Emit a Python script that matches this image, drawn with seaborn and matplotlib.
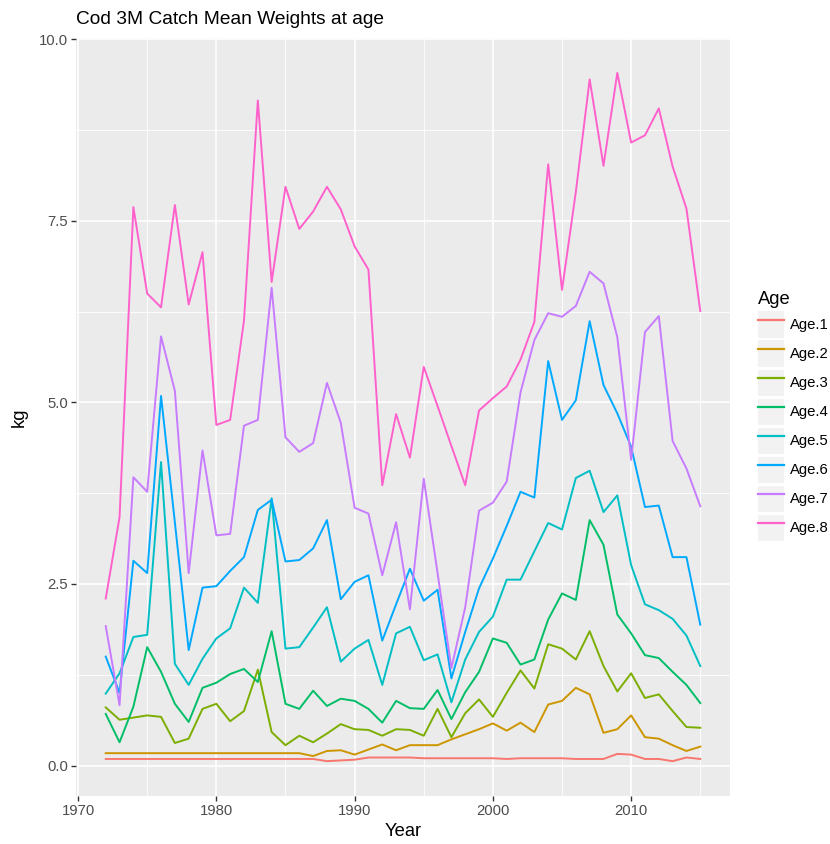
import numpy as np
import pandas as pd
import matplotlib
matplotlib.use("Agg")
import matplotlib.pyplot as plt
import seaborn as sns
from matplotlib.legend_handler import HandlerLine2D
from matplotlib.patches import Rectangle
from matplotlib.ticker import MultipleLocator

# Cod 3M catch mean weights at age (kg)
years = list(range(1972, 2016))

age1 = [0.09] * 16 + [0.06, 0.07, 0.08, 0.11, 0.11, 0.11, 0.11, 0.10, 0.10, 0.10,
                      0.10, 0.10, 0.10, 0.09, 0.10, 0.10, 0.10, 0.10, 0.09, 0.09,
                      0.09, 0.16, 0.15, 0.09, 0.09, 0.06, 0.11, 0.09]
age2 = [0.17] * 15 + [0.13, 0.20, 0.21, 0.15, 0.22, 0.29, 0.21, 0.28, 0.28, 0.28,
                      0.36, 0.43, 0.50, 0.58, 0.48, 0.59, 0.46, 0.84, 0.89, 1.07,
                      0.98, 0.45, 0.50, 0.69, 0.39, 0.37, 0.28, 0.20, 0.26]
age3 = [0.80, 0.63, 0.66, 0.69, 0.67, 0.31, 0.37, 0.78, 0.85, 0.61,
        0.75, 1.32, 0.46, 0.28, 0.41, 0.32, 0.44, 0.57, 0.50, 0.49,
        0.41, 0.50, 0.49, 0.41, 0.78, 0.39, 0.72, 0.91, 0.67, 1.00,
        1.31, 1.06, 1.67, 1.61, 1.46, 1.85, 1.37, 1.02, 1.27, 0.93,
        0.98, 0.75, 0.53, 0.52]
age4 = [0.71, 0.32, 0.81, 1.63, 1.29, 0.85, 0.60, 1.07, 1.14, 1.26,
        1.33, 1.15, 1.85, 0.85, 0.78, 1.03, 0.82, 0.92, 0.89, 0.78,
        0.59, 0.89, 0.79, 0.78, 1.04, 0.64, 1.01, 1.29, 1.75, 1.69,
        1.39, 1.46, 2.01, 2.37, 2.28, 3.38, 3.04, 2.08, 1.82, 1.52,
        1.48, 1.29, 1.11, 0.86]
age5 = [0.99, 1.27, 1.77, 1.80, 4.18, 1.40, 1.11, 1.47, 1.75, 1.89,
        2.45, 2.24, 3.68, 1.61, 1.63, 1.90, 2.18, 1.43, 1.61, 1.73,
        1.11, 1.82, 1.91, 1.45, 1.53, 0.87, 1.46, 1.84, 2.05, 2.56,
        2.56, 2.95, 3.34, 3.25, 3.96, 4.06, 3.49, 3.72, 2.76, 2.22,
        2.14, 2.02, 1.79, 1.37]
age6 = [1.50, 1.00, 2.82, 2.65, 5.09, 3.35, 1.59, 2.45, 2.47, 2.68,
        2.87, 3.52, 3.66, 2.81, 2.83, 2.99, 3.38, 2.29, 2.53, 2.62,
        1.72, 2.22, 2.71, 2.27, 2.42, 1.20, 1.84, 2.44, 2.85, 3.30,
        3.77, 3.69, 5.57, 4.76, 5.03, 6.12, 5.24, 4.85, 4.39, 3.56,
        3.58, 2.87, 2.87, 1.94]
age7 = [1.92, 0.83, 3.97, 3.77, 5.91, 5.16, 2.65, 4.34, 3.17, 3.19,
        4.68, 4.76, 6.58, 4.52, 4.32, 4.44, 5.27, 4.72, 3.55, 3.47,
        2.62, 3.35, 2.15, 3.95, 2.65, 1.34, 2.18, 3.51, 3.62, 3.91,
        5.14, 5.86, 6.23, 6.18, 6.33, 6.80, 6.64, 5.90, 4.21, 5.97,
        6.19, 4.47, 4.09, 3.57]
age8 = [2.30, 3.42, 7.69, 6.50, 6.31, 7.72, 6.35, 7.07, 4.69, 4.76,
        6.13, 9.16, 6.66, 7.97, 7.39, 7.63, 7.97, 7.66, 7.15, 6.83,
        3.86, 4.84, 4.24, 5.49, 4.95, 4.40, 3.86, 4.89, 5.06, 5.22,
        5.59, 6.11, 8.28, 6.55, 7.90, 9.45, 8.26, 9.54, 8.58, 8.68,
        9.05, 8.25, 7.67, 6.26]

ages = ["Age.1", "Age.2", "Age.3", "Age.4", "Age.5", "Age.6", "Age.7", "Age.8"]
series = [age1, age2, age3, age4, age5, age6, age7, age8]
colors = ["#F8766D", "#CD9600", "#7CAE00", "#00BE67",
          "#00BFC4", "#00A9FF", "#C77CFF", "#FF61CC"]

df = pd.concat([pd.DataFrame({"Year": years, "kg": s, "Age": a})
                for a, s in zip(ages, series)], ignore_index=True)

plt.rcParams["font.family"] = ["Liberation Sans", "DejaVu Sans"]

fig = plt.figure(figsize=(8.3, 8.44), dpi=100)
ax = fig.add_axes([76 / 830, 1 - 796 / 844, (730 - 76) / 830, (796 - 38) / 844])

sns.lineplot(data=df, x="Year", y="kg", hue="Age", hue_order=ages,
             palette=colors, linewidth=1.4, ax=ax, legend=False)

ax.set_facecolor("#EBEBEB")
for s in ax.spines.values():
    s.set_visible(False)
ax.set_xlim(1969.85, 2017.15)
ax.set_ylim(-0.42, 10.02)
ax.xaxis.set_major_locator(MultipleLocator(10))
ax.xaxis.set_minor_locator(MultipleLocator(5))
ax.yaxis.set_major_locator(MultipleLocator(2.5))
ax.yaxis.set_minor_locator(MultipleLocator(1.25))
ax.yaxis.set_major_formatter(matplotlib.ticker.FormatStrFormatter("%.1f"))
ax.grid(which="major", color="white", linewidth=1.2)
ax.grid(which="minor", color="white", linewidth=0.6)
ax.set_axisbelow(True)
ax.tick_params(which="major", length=3.6, width=1, color="#333333",
               labelcolor="#4D4D4D", labelsize=10.7, pad=2)
ax.tick_params(which="minor", length=0)
ax.set_xlabel("Year", fontsize=13.2, labelpad=4)
ax.set_ylabel("kg", fontsize=13.2, labelpad=8)

fig.text(76 / 830, 1 - 24 / 844, "Cod 3M Catch Mean Weights at age",
         fontsize=13.8, ha="left", va="baseline")


class KeyHandler(HandlerLine2D):
    # grey key box behind each legend line, like ggplot
    def create_artists(self, legend, orig_handle, xdescent, ydescent,
                       width, height, fontsize, trans):
        bg = Rectangle((-xdescent, -ydescent), width, height,
                       facecolor="#F2F2F2", edgecolor="none", transform=trans)
        arts = super().create_artists(legend, orig_handle, xdescent, ydescent,
                                      width, height, fontsize, trans)
        return [bg] + arts


handles = [plt.Line2D([], [], color=c, linewidth=1.6) for c in colors]
leg = ax.legend(handles, ages, title="Age", loc="center left",
                bbox_to_anchor=(758 / 830, 0.507), bbox_transform=fig.transFigure,
                frameon=False, fontsize=10.7, title_fontsize=13.2,
                handlelength=1.75, handleheight=2.32, labelspacing=0.2,
                handletextpad=0.38, borderpad=0, borderaxespad=0,
                alignment="left",
                handler_map={plt.Line2D: KeyHandler(marker_pad=0.1)})

fig.savefig("out.png", dpi=100)
